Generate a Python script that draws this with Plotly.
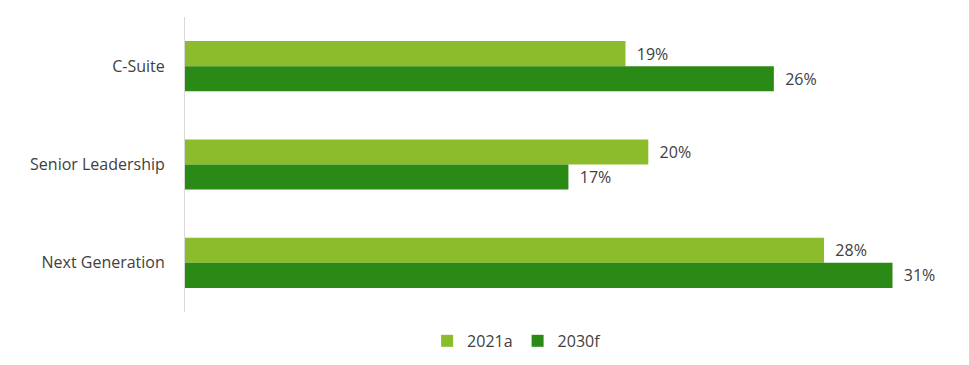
import plotly.graph_objects as go

categories = ["C-Suite", "Senior Leadership", "Next Generation"]
series_names = ["2021a", "2030f"]
values_2021a = [19.3, 20.3, 28.0]
values_2030f = [25.8, 16.8, 31.0]
colors = ["#8CBB2B", "#2B8A15"]

fig = go.Figure()
for name, vals, col in zip(series_names, [values_2021a, values_2030f], colors):
    fig.add_trace(go.Bar(
        y=categories, x=vals, name=name, orientation="h",
        marker=dict(color=col, line=dict(width=0)),
        text=[f"\u00a0\u00a0{round(v):.0f}%" for v in vals],
        textposition="outside",
        textfont=dict(size=16, color="#404040", family="Open Sans"),
        cliponaxis=False,
    ))

fig.update_layout(
    width=969, height=365,
    margin=dict(l=185, r=24, t=17, b=53, autoexpand=False),
    barmode="group", bargap=0.49, bargroupgap=0,
    plot_bgcolor="white", paper_bgcolor="white",
    font=dict(family="Open Sans", size=16, color="#404040"),
    showlegend=True,
    legend=dict(orientation="h", x=0.437, xanchor="center", yref="container",
                y=0.066, yanchor="middle",
                font=dict(size=16, color="#404040"), itemwidth=30, traceorder="normal"),
    xaxis=dict(range=[0, 33.3], showgrid=False, showticklabels=False, zeroline=False,
               showline=False, ticks=""),
    yaxis=dict(autorange="reversed", showline=True, linecolor="#D9D9D9", linewidth=1,
               showgrid=False, ticks="", ticklabelstandoff=16,
               tickfont=dict(size=16, color="#404040")),
)

fig.write_html("out.html", config={"displayModeBar": False},
               post_script="document.body.style.margin='0';")
